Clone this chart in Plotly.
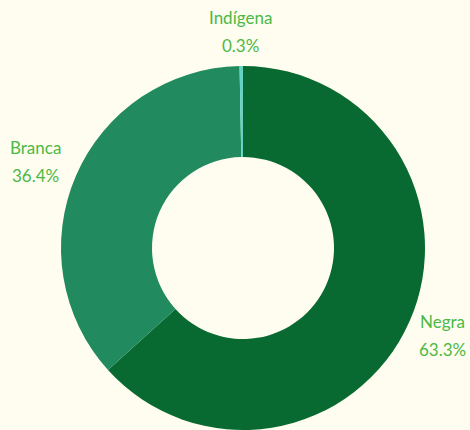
import math
import plotly.graph_objects as go

categories = ["Negra", "Branca", "Indígena"]
values = [63.3, 36.4, 0.3]
colors = ["#086a31", "#218b5f", "#66d2c1"]

W, H = 470, 430
dom_x = [61 / W, 425 / W]
dom_y = [0, 364 / H]

fig = go.Figure(go.Pie(
    labels=categories,
    values=values,
    hole=0.5,
    sort=False,
    direction="clockwise",
    rotation=0,
    marker=dict(colors=colors, line=dict(width=0)),
    textinfo="none",
    domain=dict(x=dom_x, y=dom_y),
    showlegend=False,
    hoverinfo="label+percent",
))

# label placement derived from slice mid-angles
cx = (dom_x[0] + dom_x[1]) / 2 * W
cy = (1 - (dom_y[0] + dom_y[1]) / 2) * H
R = min((dom_x[1] - dom_x[0]) * W, (dom_y[1] - dom_y[0]) * H) / 2
total = sum(values)
cum = 0
font = dict(family="Lato", size=17, color="#4cb944")
half_w = 26  # approx half text width, keeps labels inside the page
for cat, v in zip(categories, values):
    mid = (cum + v / 2) / total * 2 * math.pi
    cum += v
    s, c = math.sin(mid), -math.cos(mid)
    px = cx + 1.24 * R * s
    py = cy + 1.19 * R * c
    px = min(max(px, half_w + 2), W - half_w - 2)
    pct = f"{v / total * 100:.1f}%"
    fig.add_annotation(x=px / W, y=1 - py / H, xref="paper", yref="paper",
                       text=cat, showarrow=False, xanchor="center", yanchor="middle",
                       yshift=14, font=font)
    fig.add_annotation(x=px / W, y=1 - py / H, xref="paper", yref="paper",
                       text=pct, showarrow=False, xanchor="center", yanchor="middle",
                       yshift=-14, font=font)

fig.update_layout(
    width=W,
    height=H,
    margin=dict(l=0, r=0, t=0, b=0),
    paper_bgcolor="#fffdf0",
    plot_bgcolor="#fffdf0",
)

fig.write_html("out.html", config={"displayModeBar": False},
               post_script="document.body.style.margin='0';")
